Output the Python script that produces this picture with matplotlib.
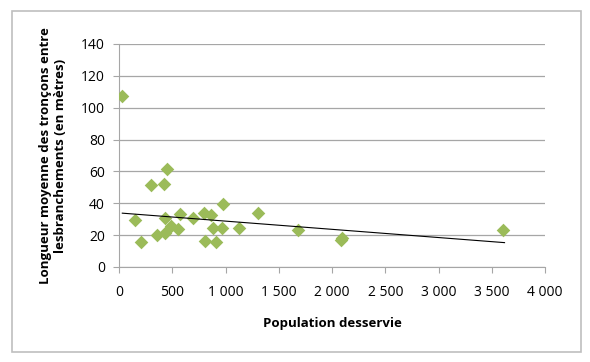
import numpy as np
import matplotlib.pyplot as plt
from matplotlib.patches import Rectangle
from matplotlib.ticker import FuncFormatter

# population served vs mean pipe length between connections
population = [31, 150, 206, 297, 353, 425, 450, 428, 434, 484, 553, 572, 694,
              800, 803, 866, 878, 909, 966, 972, 1125, 1303, 1685, 2083, 2092,
              3609]
longueur = [107.5, 29.6, 15.8, 51.3, 20.0, 52.3, 61.7, 30.8, 21.3, 25.6, 23.8,
            33.3, 30.6, 34.2, 16.5, 32.5, 24.6, 15.6, 24.6, 39.8, 24.4, 33.9,
            23.3, 17.0, 18.0, 23.1]
# linear trend line as drawn in the original
tendance_x = [31, 3620]
tendance_y = [33.8, 15.3]

plt.rcParams['font.family'] = ['Open Sans', 'DejaVu Sans']

fig = plt.figure(figsize=(5.9, 3.62), dpi=100)
ax = fig.add_axes([119/590, 1-267/362, (545-119)/590, (267-44)/362])

fig.patches.append(Rectangle((12/590, 1-352/362), (581-12)/590, (352-11)/362,
                             transform=fig.transFigure, fill=False,
                             edgecolor='#bfbfbf', linewidth=1.2))

ax.scatter(population, longueur, marker='D', s=48, color='#9bbb59', zorder=3,
           linewidths=0)
ax.plot(tendance_x, tendance_y, color='black', linewidth=0.8, zorder=4)

ax.set_xlim(0, 4000)
ax.set_ylim(0, 140)
ax.set_xticks(np.arange(0, 4001, 500))
ax.set_yticks(np.arange(0, 141, 20))
ax.xaxis.set_major_formatter(FuncFormatter(lambda v, p: f'{int(v):,}'.replace(',', ' ')))
ax.grid(axis='y', color='#a6a6a6', linewidth=0.9)
ax.set_axisbelow(True)
for s in ['top', 'right']:
    ax.spines[s].set_visible(False)
for s in ['left', 'bottom']:
    ax.spines[s].set_color('#a6a6a6')
ax.tick_params(colors='#a6a6a6', labelcolor='black', labelsize=10, length=4,
               direction='out')
ax.tick_params(axis='x', pad=9)
ax.tick_params(axis='y', pad=6)

ax.set_xlabel('Population desservie', fontsize=9.5, fontweight='bold', labelpad=12)
ax.set_ylabel('Longueur moyenne des tronçons entre\nlesbranchements (en mètres)',
              fontsize=9.5, fontweight='bold', labelpad=10)

fig.savefig('out.png', dpi=100)
